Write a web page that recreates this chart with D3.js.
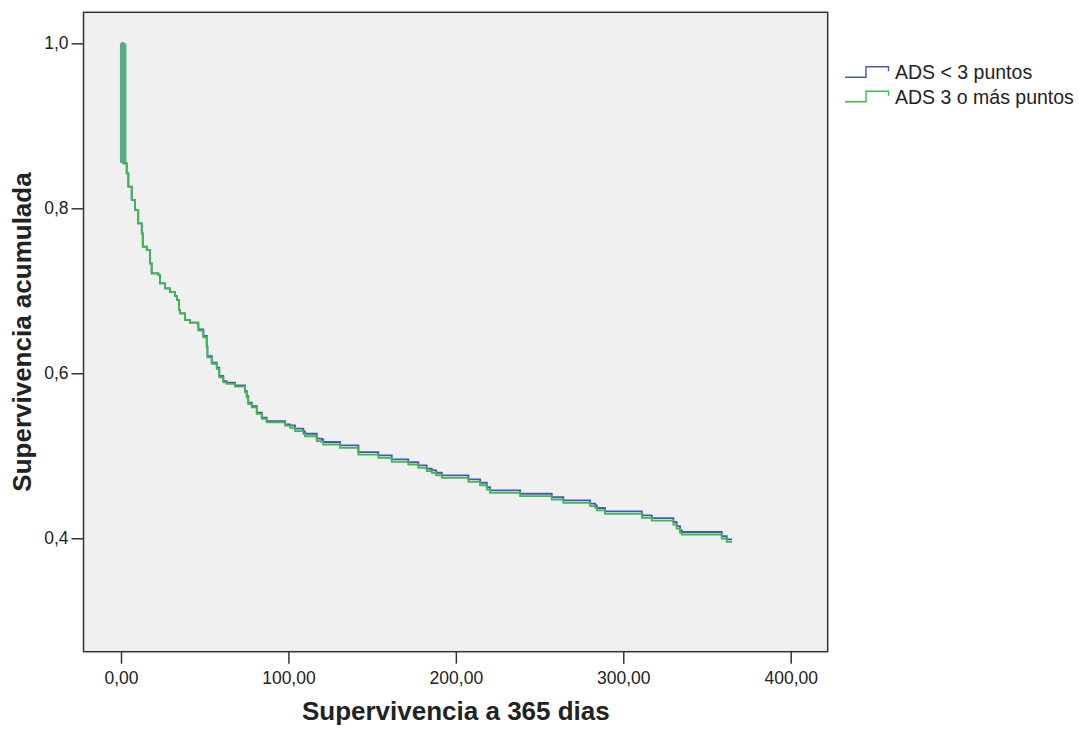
<!DOCTYPE html>
<html><head><meta charset="utf-8">
<script src="https://cdn.jsdelivr.net/npm/d3@7"></script>
<style>
body{margin:0;background:#fff;}
svg{display:block;font-family:"Liberation Sans",Arial,sans-serif;}
</style></head>
<body><svg id="c" width="1079" height="729"></svg>
<script>
// ---- data ----
const days = [0,1.4,3.4,4.4,6.4,8.4,10.3,12.4,13.0,15.4,17.3,18.3,22.3,23.3,26.3,29.3,32.3,33.5,34.6,35.2,38.2,41.2,
  46.2,49.2,51.2,51.6,54.2,57.2,58.7,61.1,63.1,68.1,74.1,75.1,76.0,78.1,81.1,84.1,87.0,98.0,
  101.0,103.9,108.9,109.9,116.9,119.9,120.8,130.8,141.8,153.7,161.7,171.6,177.6,182.6,185.6,188.2,191.6,
  207.5,214.5,218.5,220.4,238.4,257.3,264.2,280.2,283.2,284.2,289.1,311.1,317.0,329.9,331.9,333.9,334.9,358.8,361.8,365.0];
const survivalLow = [1.0,0.8545,0.8424,0.8262,0.8101,0.7979,0.7818,0.7697,0.7535,0.7495,0.7333,0.7212,0.7192,0.7091,0.7030,0.6985,0.6937,0.6888,0.6767,0.6727,0.6646,0.6613,
  0.6533,0.6452,0.6330,0.6209,0.6129,0.6069,0.5967,0.5906,0.5887,0.5854,0.5785,0.5724,0.5644,0.5603,0.5523,0.5463,0.5421,0.5381,
  0.5368,0.5328,0.5295,0.5267,0.5207,0.5199,0.5167,0.5125,0.5045,0.5004,0.4956,0.4924,0.4883,0.4843,0.4822,0.4794,0.4762,
  0.4713,0.4673,0.4621,0.4580,0.4540,0.4500,0.4459,0.4419,0.4398,0.4367,0.4325,0.4277,0.4245,0.4197,0.4148,0.4095,0.4076,0.4027,0.3986,0.3986];
const survivalHigh = [1.0,0.8545,0.8424,0.8262,0.8101,0.7979,0.7818,0.7697,0.7535,0.7495,0.7333,0.7212,0.7192,0.7091,0.7030,0.6985,0.6937,0.6888,0.6767,0.6727,0.6646,0.6613,
  0.6517,0.6436,0.6314,0.6193,0.6113,0.6053,0.5951,0.5890,0.5871,0.5838,0.5769,0.5708,0.5628,0.5587,0.5507,0.5447,0.5405,0.5365,
  0.5338,0.5298,0.5265,0.5237,0.5177,0.5169,0.5137,0.5095,0.5015,0.4974,0.4926,0.4894,0.4853,0.4813,0.4792,0.4764,0.4732,
  0.4683,0.4643,0.4591,0.4550,0.4510,0.4470,0.4429,0.4389,0.4368,0.4337,0.4295,0.4247,0.4215,0.4167,0.4118,0.4065,0.4046,0.3997,0.3956,0.3956];
// early cluster of events at days 0-2 (drawn as one dense drop)
const earlyDropDay = [1.3];
const earlyDropRange = [1.0, 0.855];
const seriesNames = ["ADS < 3 puntos", "ADS 3 o más puntos"];
const seriesColors = ["#4658b8", "#3dbb4e"];
const xTicks = [0,100,200,300,400];
const xTickLabels = ["0,00","100,00","200,00","300,00","400,00"];
const yTicks = [0.4,0.6,0.8,1.0];
const yTickLabels = ["0,4","0,6","0,8","1,0"];
const xTitle = "Supervivencia a 365 dias";
const yTitle = "Supervivencia acumulada";

// ---- layout ----
const L=83.5, R=827.7, T=12.3, B=651.7;
const svg = d3.select("#c");
const x = d3.scaleLinear().domain([-22.4,422.1]).range([L,R]);
const y = d3.scaleLinear().domain([0.2625,1.0376]).range([B,T]);

svg.append("rect").attr("x",L).attr("y",T).attr("width",R-L).attr("height",B-T)
  .attr("fill","#f0f0f0");

// curves
const line = d3.line().x(d=>x(d[0])).y(d=>y(d[1])).curve(d3.curveStepAfter);
const series = [survivalLow, survivalHigh];
series.forEach((s,i)=>{
  svg.append("path").datum(days.map((d,j)=>[d,s[j]]))
    .attr("d",line).attr("fill","none").attr("stroke",seriesColors[i])
    .attr("stroke-width",1.8).attr("stroke-linejoin","miter");
});
svg.append("line")
  .attr("x1",x(earlyDropDay[0])).attr("x2",x(earlyDropDay[0]))
  .attr("y1",y(earlyDropRange[0])).attr("y2",y(earlyDropRange[1]))
  .attr("stroke","#58ad7e").attr("stroke-width",6.5);

// frame
svg.append("rect").attr("x",L).attr("y",T).attr("width",R-L).attr("height",B-T)
  .attr("fill","none").attr("stroke","#333").attr("stroke-width",1.5);

// axes
const xAxis = d3.axisBottom(x).tickValues(xTicks).tickSize(12).tickPadding(8)
  .tickFormat((d,i)=>xTickLabels[i]);
const gx = svg.append("g").attr("transform",`translate(0,${B})`).call(xAxis);
gx.select(".domain").remove();
gx.selectAll(".tick line").attr("stroke","#333").attr("stroke-width",1.5);
gx.selectAll(".tick text").attr("font-size",17.5).attr("fill","#222")
  .attr("font-family","Liberation Sans, Arial, sans-serif");

const yAxis = d3.axisLeft(y).tickValues(yTicks).tickSize(12).tickPadding(3)
  .tickFormat((d,i)=>yTickLabels[i]);
const gy = svg.append("g").attr("transform",`translate(${L},0)`).call(yAxis);
gy.select(".domain").remove();
gy.selectAll(".tick line").attr("stroke","#333").attr("stroke-width",1.5);
gy.selectAll(".tick text").attr("font-size",17.5).attr("fill","#222")
  .attr("font-family","Liberation Sans, Arial, sans-serif");

// titles
svg.append("text").attr("x",(x(0)+x(400))/2).attr("y",720).attr("text-anchor","middle")
  .attr("font-size",26).attr("font-weight","bold").attr("fill","#222").text(xTitle);
svg.append("text").attr("transform",`translate(31,${(T+B)/2}) rotate(-90)`)
  .attr("text-anchor","middle").attr("font-size",26).attr("font-weight","bold").attr("fill","#222").text(yTitle);

// legend
const lg = svg.append("g");
seriesNames.forEach((n,i)=>{
  const by = 77.3 + i*24.4;
  lg.append("path")
    .attr("d",`M845,${by} H866 V${by-10.5} H888.5 V${by-6}`)
    .attr("fill","none").attr("stroke",seriesColors[i]).attr("stroke-width",1.4);
  lg.append("text").attr("x",895).attr("y",by+2).attr("font-size",19.5).attr("fill","#222").text(n);
});
</script></body></html>
